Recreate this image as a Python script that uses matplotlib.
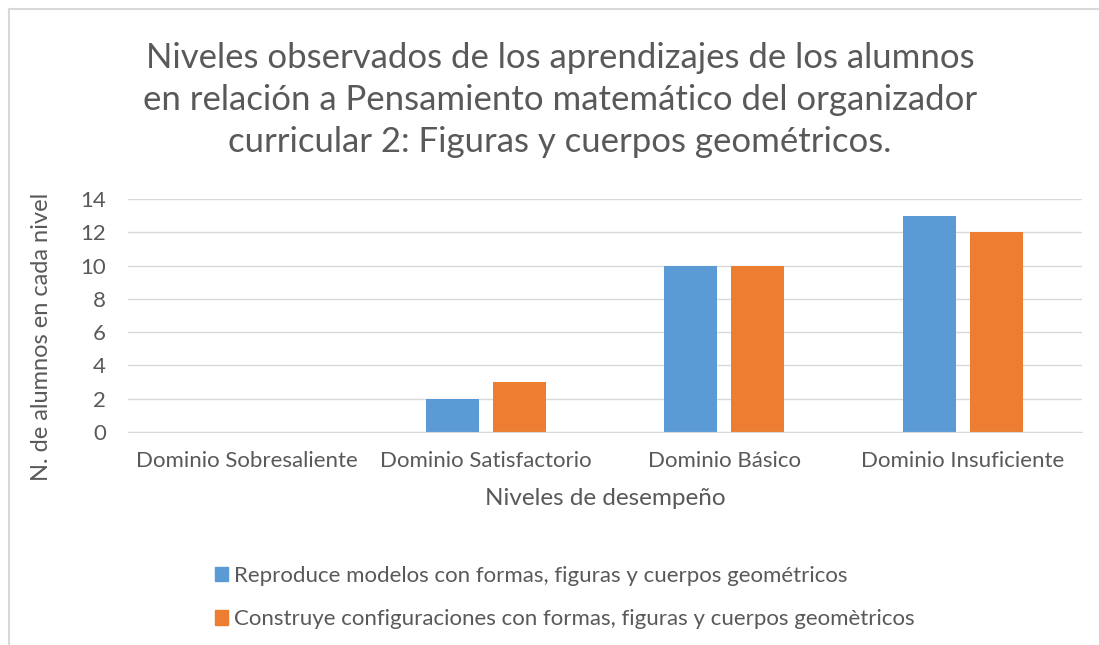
import numpy as np
import matplotlib.pyplot as plt
from matplotlib.lines import Line2D

categories = ['Dominio Sobresaliente', 'Dominio Satisfactorio', 'Dominio Básico', 'Dominio Insuficiente']
reproduce = [0, 2, 10, 13]
construye = [0, 3, 10, 12]
series_labels = ['Reproduce modelos con formas, figuras y cuerpos geométricos',
                 'Construye configuraciones con formas, figuras y cuerpos geomètricos']
y_ticks = [0, 2, 4, 6, 8, 10, 12, 14]

title = ('Niveles observados de los aprendizajes de los alumnos\n'
         'en relación a Pensamiento matemático del organizador\n'
         'curricular 2: Figuras y cuerpos geométricos.')

plt.rcParams['font.family'] = ['Lato', 'DejaVu Sans']
text_col = '#595959'
blue = '#5B9BD5'
orange = '#ED7D31'

fig = plt.figure(figsize=(10.99, 6.45), dpi=100)
W, H = 1099, 645
# plot area in pixels: left 128, right 1082, top 199, bottom 432
ax = fig.add_axes([128 / W, 1 - 432 / H, (1082 - 128) / W, (432 - 199) / H])

x = np.arange(len(categories))
offset = 0.14
width = 0.223
ax.bar(x - offset, reproduce, width, color=blue, label=series_labels[0], zorder=3)
ax.bar(x + offset, construye, width, color=orange, label=series_labels[1], zorder=3)

ax.set_xlim(-0.5, len(categories) - 0.5)
ax.set_ylim(0, 14)
ax.set_yticks(y_ticks)
ax.set_xticks(x)
ax.set_xticklabels(categories)
ax.tick_params(axis='both', length=0, labelsize=16, colors=text_col)
ax.tick_params(axis='x', pad=14)
ax.tick_params(axis='y', pad=16)
ax.grid(axis='y', color='#D9D9D9', linewidth=1, zorder=0)
for s in ['top', 'right', 'left']:
    ax.spines[s].set_visible(False)
ax.spines['bottom'].set_color('#D9D9D9')
ax.spines['bottom'].set_zorder(4)

ax.set_xlabel('Niveles de desempeño', fontsize=17.5, color=text_col, labelpad=12)
ax.set_ylabel('N. de alumnos en cada nivel', fontsize=17, color=text_col)
ax.yaxis.set_label_coords((52 - 128) / (1082 - 128), (432 - 337) / (432 - 199))

fig.text(560 / W, 1 - 100 / H, title, ha='center', va='center', fontsize=25,
         color=text_col, linespacing=1.4)

handles = [plt.Rectangle((0, 0), 1, 1, color=blue), plt.Rectangle((0, 0), 1, 1, color=orange)]
fig.legend(handles, series_labels, loc='upper left', bbox_to_anchor=(195 / W, 1 - 546 / H),
           frameon=False, fontsize=16, labelcolor=text_col, handlelength=0.6, handleheight=0.6,
           handletextpad=0.25, labelspacing=1.05)

# chart border (top and left edges visible)
fig.add_artist(Line2D([8.5 / W, 1], [1 - 8.5 / H, 1 - 8.5 / H], color='#D9D9D9', lw=1.5,
                      transform=fig.transFigure))
fig.add_artist(Line2D([8.5 / W, 8.5 / W], [0, 1 - 8.5 / H], color='#D9D9D9', lw=1.5,
                      transform=fig.transFigure))

fig.savefig('out.png', dpi=100, facecolor='white')
